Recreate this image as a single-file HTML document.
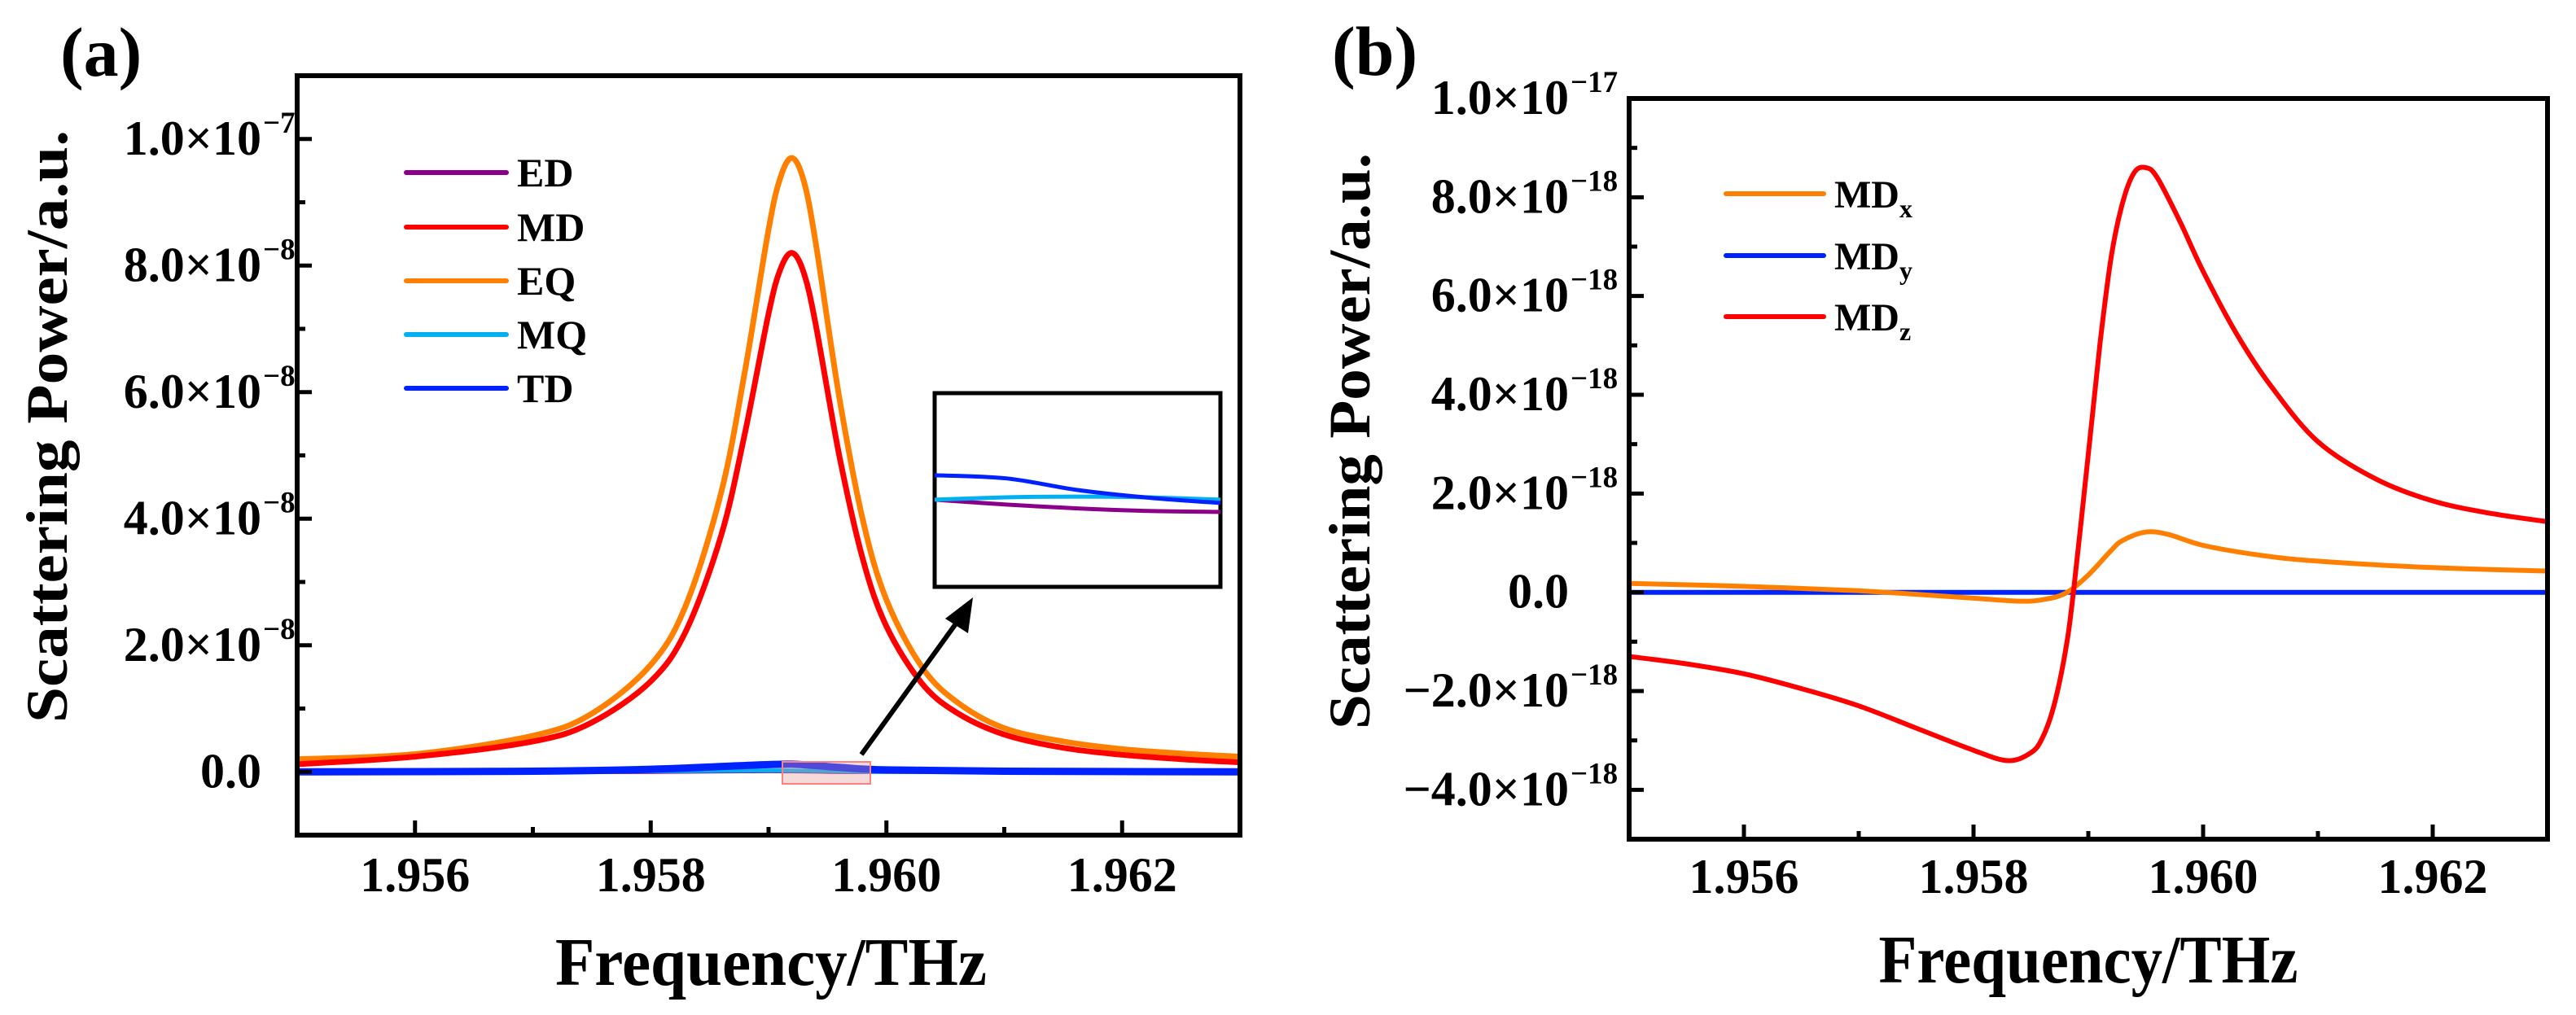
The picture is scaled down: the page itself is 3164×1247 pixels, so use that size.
<!DOCTYPE html>
<html><head><meta charset="utf-8"><style>
html,body{margin:0;padding:0;background:#fff}
svg{display:block}
text{font-family:"Liberation Serif","Times New Roman",serif;font-weight:bold;fill:#000}
</style></head><body>
<svg id="chart" width="3164" height="1247" viewBox="0 0 3164 1247" xmlns="http://www.w3.org/2000/svg">
<g id="pa"></g>
<g id="pb"></g>
</svg>
<script>
// ---- Panel (a) data (values in units of 1e-8) ----
const aX = [1.955,1.956,1.957,1.9575,1.958,1.9583,1.9586,1.9588,1.959,1.9591,1.9592,1.9593,1.9594,1.9596,1.9598,1.960,1.9603,1.9606,1.961,1.9615,1.962,1.9625,1.963];
const aEQ = [0.2,0.28,0.57,0.92,1.69,2.64,4.43,6.34,8.57,9.39,9.7,9.33,8.36,5.92,3.98,2.72,1.66,1.10,0.69,0.48,0.36,0.29,0.24];
const aMD = [0.12,0.24,0.48,0.78,1.43,2.23,3.75,5.36,7.24,7.94,8.2,7.88,7.07,5.0,3.36,2.3,1.40,0.93,0.59,0.38,0.27,0.2,0.15];
const aTDX = [1.955,1.957,1.958,1.9588,1.9592,1.9596,1.960,1.961,1.963];
const aTD = [0.0,0.01,0.04,0.1,0.12,0.07,0.03,0.01,0.0];
const aMQ = [0.0,0.0,0.01,0.02,0.02,0.01,0.0,0.0,0.0];
const aED = [0.0,0.0,0.0,0.01,0.01,0.0,0.0,0.0,0.0];
const aYTicks = [0,2,4,6,8,10];
const aYLabels = ["0.0","2.0×10","4.0×10","6.0×10","8.0×10","1.0×10"];
const aYExp = ["","−8","−8","−8","−8","−7"];
const aXTicks = [1.956,1.958,1.960,1.962];
const aXLabels = ["1.956","1.958","1.960","1.962"];
// inset (zoomed view, arbitrary units)
const insX = [0,0.25,0.5,0.75,1];
const insTD = [0.576,0.56,0.5,0.46,0.433];
const insMQ = [0.45,0.462,0.466,0.462,0.45];
const insED = [0.45,0.425,0.405,0.392,0.387];
// ---- Panel (b) data (values in units of 1e-18) ----
const bX = [1.955,1.9555,1.956,1.9565,1.957,1.9575,1.958,1.9583,1.9585,1.9586,1.9587,1.9588,1.95887,1.959,1.9591,1.9592,1.9593,1.9594,1.9595,1.9596,1.9598,1.960,1.9603,1.9606,1.961,1.9615,1.962,1.9625,1.963];
const bMDz = [-1.3,-1.45,-1.65,-1.95,-2.3,-2.75,-3.2,-3.41,-3.25,-2.95,-2.3,-1.2,0.0,2.8,5.0,6.8,7.9,8.5,8.6,8.4,7.5,6.5,5.2,4.15,3.05,2.3,1.85,1.6,1.43];
const bXx = [1.955,1.956,1.957,1.9575,1.958,1.9584,1.9586,1.9588,1.959,1.9592,1.9593,1.9595,1.9597,1.960,1.9605,1.961,1.962,1.963];
const bMDx = [0.18,0.12,0.03,-0.04,-0.12,-0.18,-0.15,-0.02,0.35,0.85,1.05,1.22,1.17,0.95,0.75,0.63,0.5,0.43];
const bMDyX = [1.955,1.963];
const bMDy = [0,0];
const bYTicks = [-4,-2,0,2,4,6,8,10];
const bYLabels = ["−4.0×10","−2.0×10","0.0","2.0×10","4.0×10","6.0×10","8.0×10","1.0×10"];
const bYExp = ["−18","−18","","−18","−18","−18","−18","−17"];
const bXTicks = [1.956,1.958,1.960,1.962];
const bXLabels = ["1.956","1.958","1.960","1.962"];

const NS="http://www.w3.org/2000/svg";
function mk(parent,tag,attrs){const e=document.createElementNS(NS,tag);for(const k in attrs)e.setAttribute(k,attrs[k]);parent.appendChild(e);return e;}
function pathD(xs,ys,sx,sy){
  const p=xs.map((x,i)=>[sx(x),sy(ys[i])]);
  let d="M"+p[0][0].toFixed(1)+","+p[0][1].toFixed(1);
  for(let i=0;i<p.length-1;i++){
    const p0=p[Math.max(0,i-1)],p1=p[i],p2=p[i+1],p3=p[Math.min(p.length-1,i+2)];
    const c1=[p1[0]+(p2[0]-p0[0])/6,p1[1]+(p2[1]-p0[1])/6];
    const c2=[p2[0]-(p3[0]-p1[0])/6,p2[1]-(p3[1]-p1[1])/6];
    d+=" C"+c1[0].toFixed(1)+","+c1[1].toFixed(1)+" "+c2[0].toFixed(1)+","+c2[1].toFixed(1)+" "+p2[0].toFixed(1)+","+p2[1].toFixed(1);
  }
  return d;
}
function axes(g,cfg){
  const {L,R,T,B,sx,sy,yt,yl,ye,xt,xl,ymin,ymax,labR,xlabY}=cfg;
  for(let v=Math.ceil(ymin);v<=ymax;v+=cfg.minorStep){
    const major=yt.some(t=>Math.abs(t-v)<1e-9);
    const t=mk(g,'line',{x1:L,x2:L+(major?18:10),y1:sy(v),y2:sy(v),stroke:'#000','stroke-width':5});
    
    
  }
  yt.forEach((v,i)=>{
    const tx=mk(g,'text',{x:labR,y:sy(v)+19,'font-size':60,'text-anchor':'end'});
    tx.textContent=yl[i];
    
    
    if(ye[i]){const s=mk(g,'text',{x:labR+2,y:sy(v)-8,'font-size':37});s.textContent=ye[i];
      
      }
  });
  const xs=[];for(let k=0;k<=8;k++)xs.push(1.955+k*0.001);
  xs.forEach(v=>{
    const major=xt.some(t=>Math.abs(t-v)<1e-9);
    if(v<=1.9551||v>=1.9629)return;
    const t=mk(g,'line',{x1:sx(v),x2:sx(v),y1:B,y2:B-(major?18:10),stroke:'#000','stroke-width':5});
    
    
  });
  xt.forEach((v,i)=>{
    const tx=mk(g,'text',{x:sx(v),y:xlabY,'font-size':60,'text-anchor':'middle'});
    tx.textContent=xl[i];
    
    
  });
}
function series(g,xs,ys,sx,sy,color,w,name){
  const p=mk(g,'path',{d:pathD(xs,ys,sx,sy),fill:'none',stroke:color,'stroke-width':w,'stroke-linejoin':'round'});
  
  
}
function legend(g,items,x1,x2,tx,ys,fs){
  items.forEach((it,i)=>{
    const l=mk(g,'line',{x1:x1,x2:x2,y1:ys[i],y2:ys[i],stroke:it.c,'stroke-width':6,'stroke-linecap':'round'});
    
    
    const t=mk(g,'text',{x:tx,y:ys[i]+17,'font-size':fs});
    
    
    t.textContent=it.t;
    if(it.sub){const s=mk(t,'tspan',{'font-size':32,dy:12});s.textContent=it.sub;}
  });
}

// ===== Panel A =====
(function(){
  const g=document.getElementById('pa');
  const L=365,R=1523,T=93,B=1026;
  const xmin=1.955,xmax=1.963,ymin=-1,ymax=11;
  const sx=x=>L+(x-xmin)/(xmax-xmin)*(R-L);
  const sy=y=>B-(y-ymin)/(ymax-ymin)*(B-T);
  const clip=mk(g,'clipPath',{id:'clipA'});mk(clip,'rect',{x:L,y:T,width:R-L,height:B-T});
  const cg=mk(g,'g',{'clip-path':'url(#clipA)'});
  
  
  series(cg,aX,aEQ,sx,sy,'#ff8000',7,'eq-line');
  series(cg,aX,aMD,sx,sy,'#ff0000',7,'md-line');
  series(cg,aTDX,aED,sx,sy,'#8b008b',5,'ed-line');
  series(cg,aTDX,aMQ,sx,sy,'#00b0f0',5,'mq-line');
  series(cg,aTDX,aTD,sx,sy,'#0022ff',9,'td-line');
  const hr=mk(g,'rect',{x:961,y:936,width:108,height:27,fill:'rgba(230,150,150,0.35)',stroke:'#ff8080','stroke-width':2});
  
  
  const fr=mk(g,'rect',{x:L,y:T,width:R-L,height:B-T,fill:'none',stroke:'#000','stroke-width':6});
  
  
  axes(g,{L,R,T,B,sx,sy,yt:aYTicks,yl:aYLabels,ye:aYExp,xt:aXTicks,xl:aXLabels,ymin,ymax,minorStep:1,labR:321,xlabY:1095});
  const iL=1148,iR=1499,iT=483,iB=721;
  const ix=v=>iL+v*(iR-iL), iy=v=>iB-v*(iB-iT);
  const ig=mk(g,'g',{});
  
  
  mk(ig,'rect',{x:iL,y:iT,width:iR-iL,height:iB-iT,fill:'#fff',stroke:'#000','stroke-width':5});
  series(ig,insX,insED,ix,iy,'#8b008b',5,'inset-ed-line');
  series(ig,insX,insMQ,ix,iy,'#00b0f0',5,'inset-mq-line');
  series(ig,insX,insTD,ix,iy,'#0022ff',5,'inset-td-line');
  const ar=mk(g,'line',{x1:1058,y1:927,x2:1180,y2:758,stroke:'#000','stroke-width':6});
  
  
  const ah=mk(g,'polygon',{points:'1195,734 1161,760 1189,778',fill:'#000'});
  
  
  legend(g,[{id:'ed',t:'ED',c:'#8b008b'},{id:'md',t:'MD',c:'#ff0000'},{id:'eq',t:'EQ',c:'#ff8000'},{id:'mq',t:'MQ',c:'#00b0f0'},{id:'td',t:'TD',c:'#0022ff'}],499,622,635,[212,279,345,411,477],50);
  const yt=mk(g,'text',{x:0,y:0,'font-size':72,'text-anchor':'middle',textLength:728,lengthAdjust:'spacingAndGlyphs',transform:'translate(82,524) rotate(-90)'});
  yt.textContent='Scattering Power/a.u.';
  
  
  const xt=mk(g,'text',{x:947,y:1210,'font-size':84,'text-anchor':'middle',textLength:530,lengthAdjust:'spacingAndGlyphs'});
  xt.textContent='Frequency/THz';
  
  
  const pl=mk(g,'text',{x:74,y:93,'font-size':86});
  pl.textContent='(a)';
  
  
})();

// ===== Panel B =====
(function(){
  const g=document.getElementById('pb');
  const L=2001,R=3129,T=121,B=1031;
  const xmin=1.955,xmax=1.963,ymin=-5,ymax=10;
  const sx=x=>L+(x-xmin)/(xmax-xmin)*(R-L);
  const sy=y=>B-(y-ymin)/(ymax-ymin)*(B-T);
  const clip=mk(g,'clipPath',{id:'clipB'});mk(clip,'rect',{x:L,y:T,width:R-L,height:B-T});
  const cg=mk(g,'g',{'clip-path':'url(#clipB)'});
  
  
  series(cg,bMDyX,bMDy,sx,sy,'#0022ff',6,'mdy-line');
  series(cg,bXx,bMDx,sx,sy,'#ff8000',6,'mdx-line');
  series(cg,bX,bMDz,sx,sy,'#ff0000',6,'mdz-line');
  const fr=mk(g,'rect',{x:L,y:T,width:R-L,height:B-T,fill:'none',stroke:'#000','stroke-width':6});
  
  
  axes(g,{L,R,T,B,sx,sy,yt:bYTicks,yl:bYLabels,ye:bYExp,xt:bXTicks,xl:bXLabels,ymin,ymax,minorStep:1,labR:1927,xlabY:1097});
  legend(g,[{id:'mdx',t:'MD',sub:'x',c:'#ff8000'},{id:'mdy',t:'MD',sub:'y',c:'#0022ff'},{id:'mdz',t:'MD',sub:'z',c:'#ff0000'}],2120,2240,2253,[238,314,389],48);
  const yt=mk(g,'text',{x:0,y:0,'font-size':72,'text-anchor':'middle',textLength:708,lengthAdjust:'spacingAndGlyphs',transform:'translate(1682,542) rotate(-90)'});
  yt.textContent='Scattering Power/a.u.';
  
  
  const xt=mk(g,'text',{x:2565,y:1207,'font-size':84,'text-anchor':'middle',textLength:515,lengthAdjust:'spacingAndGlyphs'});
  xt.textContent='Frequency/THz';
  
  
  const pl=mk(g,'text',{x:1636,y:92,'font-size':86});
  pl.textContent='(b)';
  
  
})();
</script>
</body></html>
